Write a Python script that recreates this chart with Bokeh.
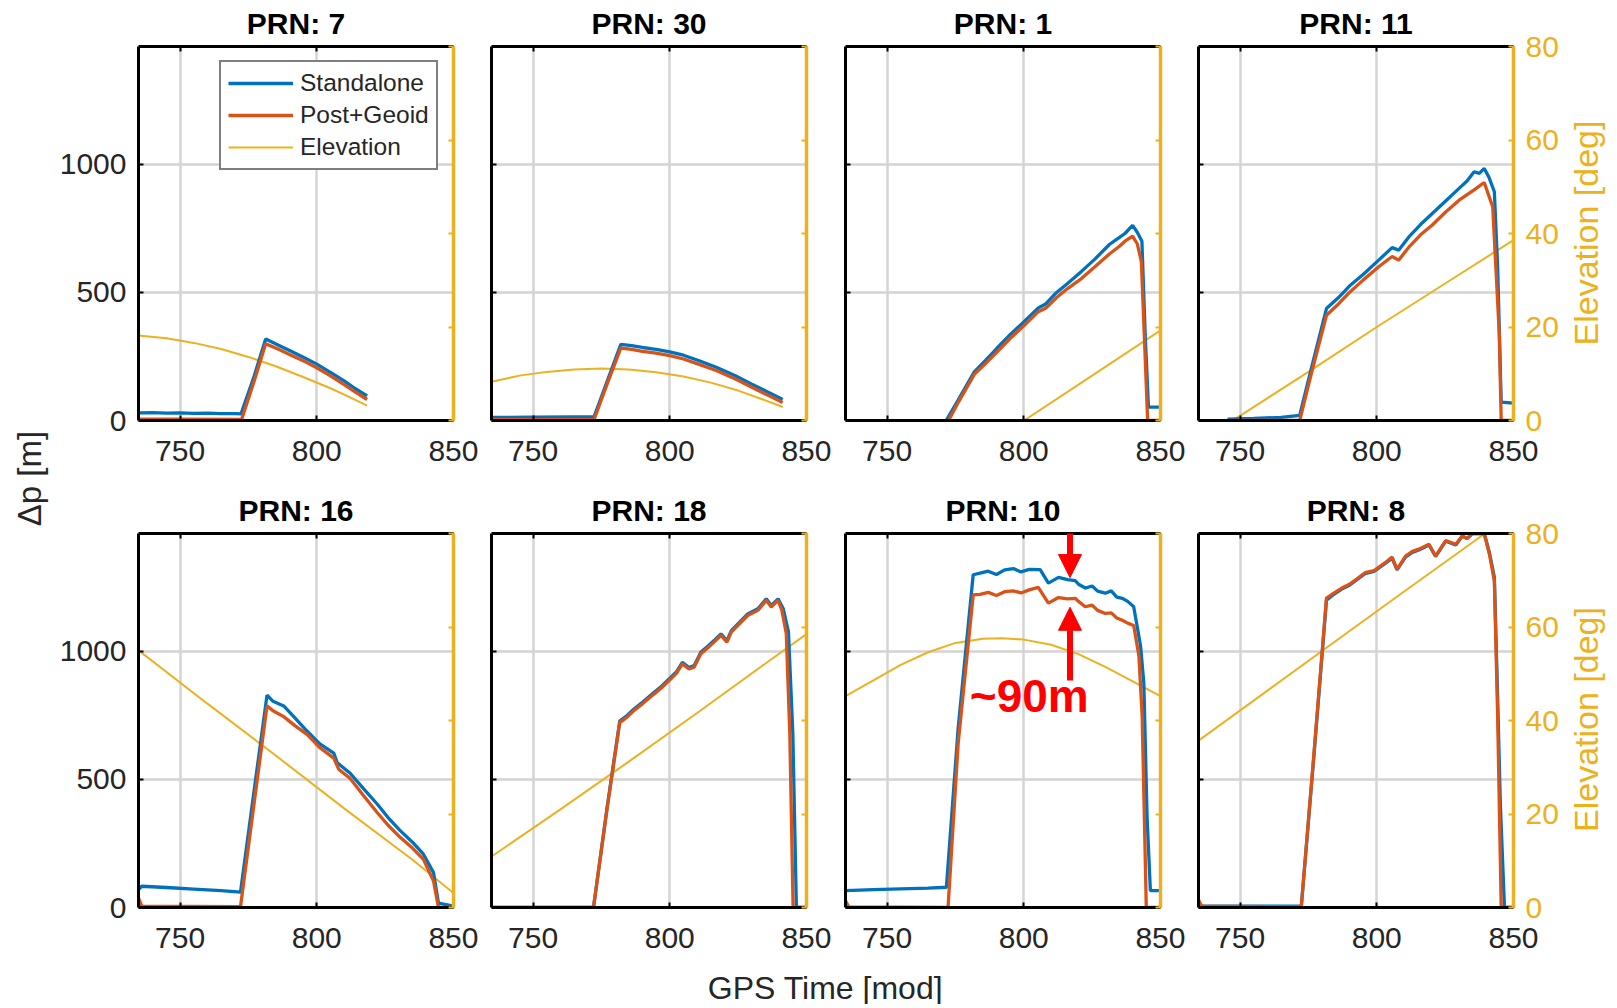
import numpy as np
from bokeh.plotting import figure
from bokeh.models import (Range1d, LinearAxis, FixedTicker, Legend, LegendItem,
                          Arrow, NormalHead, Label)
from bokeh.layouts import row, column
from bokeh.embed import file_html
from bokeh.resources import INLINE
from bokeh.core.properties import value

# ---------------- data ----------------
prn_titles = ["PRN: 7", "PRN: 30", "PRN: 1", "PRN: 11",
              "PRN: 16", "PRN: 18", "PRN: 10", "PRN: 8"]
x_ticks = [750, 800, 850]
dp_ticks = [0, 500, 1000]
el_ticks = [0, 20, 40, 60, 80]
legend_labels = ["Standalone", "Post+Geoid", "Elevation"]

# PRN 7
t_sa_7 = [734.8, 740, 745, 750, 755, 760, 765, 770, 772.3, 777, 781.3, 786, 791, 796, 800, 805, 810, 814, 818.4]
sa_7 = [30, 31, 29, 30, 28, 29, 27, 27, 26, 170, 318, 294, 268, 242, 220, 188, 155, 125, 96]
t_pg_7 = [734.8, 750, 772.5, 777, 781.3, 786, 791, 796, 800, 805, 810, 814, 818.4]
pg_7 = [5, 5, 4, 150, 300, 278, 253, 228, 206, 174, 140, 112, 82]
t_el_7 = [734.8, 745, 755, 765, 775, 785, 795, 805, 812, 818.4]
el_7 = [18.2, 17.6, 16.6, 15.3, 13.6, 11.6, 9.3, 6.9, 5.0, 3.2]

# PRN 30
t_sa_30 = [734.8, 750, 765, 772.3, 777, 782.1, 786, 790, 795, 800, 805, 811, 817, 824, 830, 836, 841.3]
sa_30 = [12, 13, 14, 14, 150, 297, 292, 285, 278, 268, 255, 232, 208, 175, 142, 110, 82]
t_pg_30 = [734.8, 750, 772.3, 777, 782.1, 786, 790, 795, 800, 805, 811, 817, 824, 830, 836, 841.3]
pg_30 = [3, 3, 3, 140, 283, 278, 270, 263, 253, 240, 218, 195, 162, 130, 98, 70]
t_el_30 = [734.8, 745, 755, 765, 775, 785, 795, 805, 815, 825, 835, 841.3]
el_30 = [8.3, 9.6, 10.4, 10.9, 11.1, 10.9, 10.3, 9.4, 8.1, 6.4, 4.3, 2.9]

# PRN 1
t_sa_1 = [771.6, 776, 781.9, 786, 790, 795, 800, 805.3, 808, 812, 816, 821.2, 826, 831.3, 835, 837, 839.8, 841.5, 843.2, 844.4, 845.6, 850]
sa_1 = [0, 80, 190, 235, 280, 335, 385, 439, 455, 500, 535, 583, 630, 687, 715, 730, 762, 735, 700, 334, 52, 52]
t_pg_1 = [772.5, 776, 781.9, 786, 790, 795, 800, 805.3, 808, 812, 816, 821.2, 826, 831.3, 835, 837, 839.8, 841.5, 843, 844.2, 845.3, 850]
pg_1 = [0, 70, 180, 222, 265, 320, 370, 425, 438, 480, 515, 555, 600, 650, 680, 700, 720, 690, 620, 300, 0, 0]
t_el_1 = [800.1, 825, 850]
el_1 = [0, 9.6, 19.3]

# PRN 11
t_sa_11 = [745.4, 755, 765, 771.8, 776, 781.6, 786, 790, 795, 800.7, 805.6, 808, 812, 816, 820.3, 825, 830.1, 833, 835.6, 837.5, 839.3, 841, 843, 844.2, 845.5, 850]
sa_11 = [5, 8, 12, 20, 200, 437, 480, 525, 570, 626, 675, 665, 720, 765, 808, 855, 906, 935, 971, 965, 984, 950, 893, 600, 72, 68]
t_pg_11 = [745.4, 771.8, 776, 781.6, 786, 790, 795, 800.7, 805.6, 808, 812, 816, 820.3, 825, 830.1, 835.6, 839.3, 842.4, 844.8, 845.5, 850]
pg_11 = [0, 0, 180, 411, 455, 500, 548, 600, 640, 626, 680, 725, 763, 812, 860, 900, 929, 834, 339, 0, 0]
t_el_11 = [747.3, 775, 800, 825, 850]
el_11 = [0, 10.4, 20.0, 29.3, 38.6]

# PRN 16
t_sa_16 = [734.8, 736, 745, 755, 765, 772.1, 777, 781.8, 784, 787.9, 792, 796.5, 801, 806.2, 807.5, 812.2, 817, 822, 826, 830.5, 835, 839, 842.7, 844.5, 850]
sa_16 = [70, 83, 78, 72, 66, 60, 450, 829, 805, 787, 740, 688, 640, 603, 565, 524, 465, 405, 352, 300, 255, 208, 136, 17, 5]
t_pg_16 = [734.8, 736, 772.1, 777, 781.8, 784, 787.9, 792, 796.5, 801, 806.2, 808, 812.2, 817, 822, 826, 830.5, 835, 839, 842.7, 844.5, 850]
pg_16 = [37, 5, 3, 400, 787, 768, 745, 710, 675, 625, 583, 540, 504, 438, 372, 322, 274, 232, 188, 103, 0, 0]
t_el_16 = [734.8, 760, 785, 810, 835, 850]
el_16 = [55.0, 43.6, 32.5, 21.2, 10.2, 3.1]

# PRN 18
t_sa_18 = [734.8, 772.1, 777, 781.7, 784, 786.8, 790, 794.2, 797, 800.3, 802.5, 804.6, 807, 808.9, 811.3, 814, 816.2, 818.7, 820.9, 822.5, 824.9, 828.5, 832.2, 835.3, 837.1, 839.6, 841.5, 843.4, 845, 846.3, 850]
sa_18 = [0, 0, 385, 728, 746, 774, 801, 839, 864, 898, 921, 957, 937, 944, 996, 1021, 1042, 1068, 1042, 1081, 1107, 1146, 1166, 1205, 1179, 1205, 1166, 1076, 680, 0, 0]
t_pg_18 = [734.8, 772.1, 777, 781.7, 784, 786.8, 790, 794.2, 797, 800.3, 802.5, 804.6, 807, 808.9, 811.3, 814, 816.2, 818.7, 820.9, 822.5, 824.9, 828.5, 832.2, 835.3, 837.1, 839.6, 841, 842.6, 843.9, 845.1, 850]
pg_18 = [0, 0, 380, 722, 740, 768, 795, 833, 858, 892, 915, 951, 931, 938, 990, 1015, 1036, 1062, 1036, 1075, 1101, 1140, 1160, 1199, 1173, 1199, 1160, 1070, 676, 0, 0]
t_el_18 = [734.8, 760, 785, 810, 835, 850]
el_18 = [10.9, 21.0, 31.2, 41.6, 52.2, 58.5]

# PRN 10
t_sa_10 = [734.8, 745, 755, 765, 771.7, 776, 781.5, 784, 787, 790, 793, 796.2, 799, 802, 806, 809, 812.7, 816, 818.8, 820, 822.5, 825, 827, 829.8, 832, 834, 836, 838, 840.2, 842.7, 843.9, 845.1, 846.3, 850]
sa_10 = [66, 70, 73, 76, 79, 700, 1299, 1305, 1313, 1300, 1318, 1323, 1310, 1320, 1319, 1266, 1289, 1280, 1276, 1262, 1247, 1255, 1235, 1227, 1236, 1212, 1207, 1195, 1174, 1022, 877, 350, 66, 66]
t_pg_10 = [734.8, 736, 772.3, 776, 781.5, 784, 787, 790, 793, 796.2, 799, 802, 805.3, 809, 812.7, 816, 818.8, 820, 822.5, 825, 827, 829.8, 832, 834, 836, 838, 840.2, 842.1, 843.3, 844.8, 850]
pg_10 = [26, 2, 0, 640, 1220, 1222, 1230, 1218, 1233, 1236, 1228, 1240, 1250, 1188, 1210, 1205, 1207, 1195, 1174, 1180, 1160, 1148, 1150, 1130, 1121, 1110, 1101, 983, 745, 0, 0]
t_el_10 = [734.8, 745, 755, 765, 775, 785, 792, 800, 810, 820, 830, 840, 850]
el_10 = [45.2, 48.6, 51.9, 54.6, 56.6, 57.5, 57.6, 57.3, 56.2, 54.2, 51.4, 48.3, 45.2]

# PRN 8
t_sa_8 = [734.8, 736, 772.4, 777, 781.6, 784, 787.2, 790, 793, 795.7, 799, 803.1, 805.6, 807.4, 810.5, 813, 815.4, 819.1, 821.5, 825.2, 828.9, 831.3, 833, 835, 839.3, 841.2, 843, 844.2, 845.2, 846.7, 850]
sa_8 = [8, 6, 5, 590, 1200, 1220, 1243, 1258, 1282, 1303, 1312, 1343, 1364, 1318, 1368, 1386, 1396, 1415, 1370, 1430, 1415, 1450, 1440, 1460, 1460, 1385, 1290, 820, 400, 0, 0]
t_pg_8 = [734.8, 736, 772.4, 777, 781.6, 784, 787.2, 790, 793, 795.7, 799, 803.1, 805.6, 807.4, 810.5, 813, 815.4, 819.1, 821.5, 825.2, 828.9, 831.3, 833, 835, 839.3, 841.2, 843, 844.2, 845.5, 850]
pg_8 = [30, 5, 3, 600, 1208, 1225, 1247, 1262, 1285, 1307, 1315, 1346, 1368, 1320, 1372, 1390, 1399, 1418, 1372, 1432, 1418, 1451, 1440, 1460, 1460, 1379, 1274, 747, 0, 0]
t_el_8 = [734.8, 760, 785, 810, 830, 839.3, 841]
el_8 = [35.7, 46.4, 57.0, 67.6, 76.0, 79.9, 80.5]

panels = [
    (t_sa_7, sa_7, t_pg_7, pg_7, t_el_7, el_7),
    (t_sa_30, sa_30, t_pg_30, pg_30, t_el_30, el_30),
    (t_sa_1, sa_1, t_pg_1, pg_1, t_el_1, el_1),
    (t_sa_11, sa_11, t_pg_11, pg_11, t_el_11, el_11),
    (t_sa_16, sa_16, t_pg_16, pg_16, t_el_16, el_16),
    (t_sa_18, sa_18, t_pg_18, pg_18, t_el_18, el_18),
    (t_sa_10, sa_10, t_pg_10, pg_10, t_el_10, el_10),
    (t_sa_8, sa_8, t_pg_8, pg_8, t_el_8, el_8),
]

# annotation in PRN 10 panel (GPS time of the arrows, dp values of tips)
arrow_t = 816.9
arrow_down_tip = 1288
arrow_up_tip = 1172
arrow_up_base = 886

# ---------------- styling ----------------
FONT = "Liberation Sans"
TXT = "#262626"
BLUE, RED, YEL = "#0072BD", "#D95319", "#EDB120"
FW, FH = 315, 374
LEFT_B = [82, 13, 14, 13]
RIGHT_B = [25, 25, 25, 55]
TOP_B = [46, 55]
BOT_B = [58, 48]
YLAB_W = 56
RLAB_W = 44
TOTAL_H = 1004
GRID_W = sum(LEFT_B) + sum(RIGHT_B) + 4 * FW


def style_hidden(ax):
    ax.major_label_text_color = None
    ax.major_label_text_font_size = "1px"
    ax.major_label_standoff = 0


def make_panel(idx):
    r, c = divmod(idx, 4)
    t_sa, sa, t_pg, pg, t_el, el = panels[idx]
    p = figure(frame_width=FW, frame_height=FH,
               x_range=Range1d(734.8, 850), y_range=Range1d(0, 1460),
               output_backend="svg", toolbar_location=None,
               min_border_left=LEFT_B[c], min_border_right=RIGHT_B[c],
               min_border_top=TOP_B[r], min_border_bottom=BOT_B[r],
               outline_line_color=None, background_fill_color="white",
               border_fill_color="white")
    p.extra_y_ranges = {"el": Range1d(0, 80)}

    p.title.text = prn_titles[idx]
    p.title.align = "center"
    p.title.vertical_align = "top"
    p.title.text_font = FONT
    p.title.text_font_size = "30px"
    p.title.text_font_style = "bold"
    p.title.text_color = "black"
    p.title.standoff = 10

    xa = p.xaxis[0]
    xa.ticker = FixedTicker(ticks=x_ticks)
    xa.major_label_text_font = FONT
    xa.major_label_text_font_size = "30px"
    xa.major_label_text_color = TXT
    xa.axis_line_color = "black"
    xa.axis_line_width = 3
    xa.major_tick_in = 5
    xa.major_tick_out = 0
    xa.major_tick_line_color = "black"
    xa.major_tick_line_width = 2
    xa.minor_tick_line_color = None
    xa.major_label_standoff = 20

    ya = p.yaxis[0]
    ya.ticker = FixedTicker(ticks=dp_ticks)
    ya.major_label_text_font = FONT
    ya.major_label_text_font_size = "30px"
    ya.major_label_text_color = TXT
    ya.major_label_standoff = 12
    if c != 0:
        style_hidden(ya)
    ya.axis_line_color = "black"
    ya.axis_line_width = 3
    ya.major_tick_in = 5
    ya.major_tick_out = 0
    ya.major_tick_line_color = "black"
    ya.major_tick_line_width = 2
    ya.minor_tick_line_color = None

    top = LinearAxis(ticker=FixedTicker(ticks=x_ticks),
                     axis_line_color="black", axis_line_width=3, major_tick_in=5,
                     major_tick_out=0, major_tick_line_color="black", major_tick_line_width=2,
                     minor_tick_line_color=None)
    style_hidden(top)
    p.add_layout(top, "above")

    ra = LinearAxis(y_range_name="el", ticker=FixedTicker(ticks=el_ticks),
                    axis_line_color=YEL, axis_line_width=3.5, major_tick_in=5,
                    major_tick_out=0, major_tick_line_color=YEL, major_tick_line_width=2,
                    minor_tick_line_color=None, major_label_text_color=YEL,
                    major_label_text_font=FONT, major_label_text_font_size="30px",
                    major_label_standoff=12)
    if c != 3:
        style_hidden(ra)
    p.add_layout(ra, "right")

    p.xgrid.ticker = FixedTicker(ticks=[750, 800])
    p.ygrid.ticker = FixedTicker(ticks=[500, 1000])
    for g in (p.xgrid[0], p.ygrid[0]):
        g.grid_line_color = "#d4d4d4"
        g.grid_line_width = 2.5

    r_el = p.line(t_el, el, y_range_name="el", line_color=YEL, line_width=2)
    r_sa = p.line(t_sa, sa, line_color=BLUE, line_width=3.3)
    r_pg = p.line(t_pg, pg, line_color=RED, line_width=3.3)
    return p, (r_sa, r_pg, r_el)


figs = []
for i in range(8):
    p, rends = make_panel(i)
    figs.append(p)
    if i == 0:
        leg = Legend(items=[LegendItem(label=legend_labels[k], renderers=[rends[k]]) for k in range(3)],
                     location=(81, 250), label_text_font=FONT, label_text_font_size="24.5px",
                     label_text_color=TXT, glyph_width=65, glyph_height=28, label_height=28,
                     label_standoff=7, spacing=4, padding=7, margin=0,
                     border_line_color="black", border_line_width=2.5,
                     background_fill_color="white", background_fill_alpha=1.0)
        p.add_layout(leg)
    if i == 6:
        p.add_layout(Arrow(end=NormalHead(size=23, fill_color="red", line_color="red"),
                           x_start=arrow_t, y_start=1600, x_end=arrow_t, y_end=arrow_down_tip,
                           line_color="red", line_width=6, level="overlay"))
        p.add_layout(Arrow(end=NormalHead(size=23, fill_color="red", line_color="red"),
                           x_start=arrow_t, y_start=arrow_up_base, x_end=arrow_t, y_end=arrow_up_tip,
                           line_color="red", line_width=6, level="overlay"))
        p.add_layout(Label(x=802, y=824, text="~90m", text_align="center",
                           text_baseline="middle", text_font=FONT, text_font_size="46px",
                           text_font_style="bold", text_color="red"))

# shared y label (left)
ylab = figure(width=YLAB_W, height=TOTAL_H, x_range=Range1d(0, YLAB_W), y_range=Range1d(0, TOTAL_H),
              output_backend="svg", toolbar_location=None, min_border=0,
              x_axis_location=None, y_axis_location=None, outline_line_color=None)
ylab.grid.visible = False
ylab.text(x=[29], y=[TOTAL_H - 478], text=["Δp [m]"], angle=np.pi / 2,
          text_align="center", text_baseline="middle", text_font=value(FONT),
          text_font_size="33px", text_color=TXT)

# right elevation labels (one per row)
rlab = figure(width=RLAB_W, height=TOTAL_H, x_range=Range1d(0, RLAB_W), y_range=Range1d(0, TOTAL_H),
              output_backend="svg", toolbar_location=None, min_border=0,
              x_axis_location=None, y_axis_location=None, outline_line_color=None)
rlab.grid.visible = False
rlab.text(x=[17, 17], y=[TOTAL_H - 232.5, TOTAL_H - 719], text=["Elevation [deg]", "Elevation [deg]"],
          angle=np.pi / 2, text_align="center", text_baseline="middle", text_font=value(FONT),
          text_font_size="34px", text_color=YEL)

row1_h = TOP_B[0] + FH + BOT_B[0]
row2_h = TOP_B[1] + FH + BOT_B[1]
XLAB_H = TOTAL_H - row1_h - row2_h
xlab = figure(width=GRID_W, height=XLAB_H, x_range=Range1d(0, GRID_W),
              y_range=Range1d(0, XLAB_H), output_backend="svg", toolbar_location=None,
              min_border=0, x_axis_location=None, y_axis_location=None, outline_line_color=None)
xlab.grid.visible = False
xlab.text(x=[825 - YLAB_W], y=[TOTAL_H - 987], text=["GPS Time [mod]"],
          text_align="center", text_baseline="middle", text_font=value(FONT),
          text_font_size="32px", text_color=TXT)

layout = row(ylab, column(row(*figs[:4]), row(*figs[4:]), xlab), rlab)

open("out.html", "w").write(file_html(layout, INLINE))
